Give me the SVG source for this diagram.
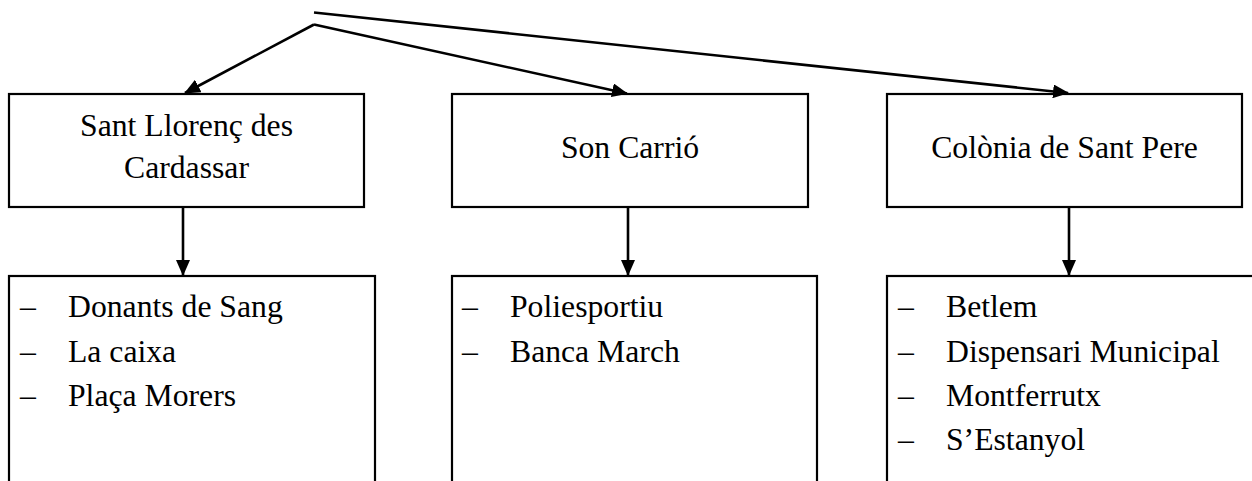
<svg xmlns="http://www.w3.org/2000/svg" width="1252" height="481" viewBox="0 0 1252 481">
  <style>
    .box { fill: #ffffff; stroke: #000000; stroke-width: 2.2; }
    .head { font-family: "Liberation Serif", "Times New Roman", serif; font-size: 31.7px; fill: #000000; text-anchor: middle; }
    .item { font-family: "Liberation Serif", "Times New Roman", serif; font-size: 31.7px; fill: #000000; }
    .conn { fill: none; stroke: #000000; stroke-width: 2.6; }
  </style>
  <defs>
    <marker id="arrow" markerUnits="userSpaceOnUse" viewBox="0 0 16 14" refX="15" refY="7" markerWidth="16" markerHeight="14" orient="auto">
      <path d="M0,0 L16,7 L0,14 Z" fill="#000000"/>
    </marker>
  </defs>
  <rect width="1252" height="481" fill="#ffffff"/>

  <g id="node-sant-llorenc">
    <rect class="box" x="9" y="94" width="355" height="113"/>
    <text class="head" x="186.5" y="136">Sant Llorenç des</text>
    <text class="head" x="186.5" y="178">Cardassar</text>
  </g>
  <g id="node-son-carrio">
    <rect class="box" x="452" y="94" width="356" height="113"/>
    <text class="head" x="630" y="157.5">Son Carrió</text>
  </g>
  <g id="node-colonia">
    <rect class="box" x="887" y="94" width="355" height="113"/>
    <text class="head" x="1064.5" y="157.5">Colònia de Sant Pere</text>
  </g>

  <g id="list-sant-llorenc">
    <rect class="box" x="9" y="276" width="366" height="230"/>
    <text class="item" x="20" y="317">–</text><text class="item" x="68" y="317">Donants de Sang</text>
    <text class="item" x="20" y="362">–</text><text class="item" x="68" y="362">La caixa</text>
    <text class="item" x="20" y="406">–</text><text class="item" x="68" y="406">Plaça Morers</text>
  </g>
  <g id="list-son-carrio">
    <rect class="box" x="452" y="276" width="365" height="230"/>
    <text class="item" x="462" y="317">–</text><text class="item" x="510" y="317">Poliesportiu</text>
    <text class="item" x="462" y="362">–</text><text class="item" x="510" y="362">Banca March</text>
  </g>
  <g id="list-colonia">
    <rect class="box" x="887" y="276" width="375" height="230"/>
    <text class="item" x="898" y="317">–</text><text class="item" x="946" y="317">Betlem</text>
    <text class="item" x="898" y="362">–</text><text class="item" x="946" y="362">Dispensari Municipal</text>
    <text class="item" x="898" y="406">–</text><text class="item" x="946" y="406">Montferrutx</text>
    <text class="item" x="898" y="450">–</text><text class="item" x="946" y="450">S’Estanyol</text>
  </g>

  <g id="connectors">
    <line class="conn" x1="314" y1="12.5" x2="1068" y2="93" marker-end="url(#arrow)"/>
    <line class="conn" x1="314" y1="24.5" x2="185" y2="93" marker-end="url(#arrow)"/>
    <line class="conn" x1="314" y1="24.5" x2="627" y2="93.5" marker-end="url(#arrow)"/>
    <line class="conn" x1="183" y1="207" x2="183" y2="275" marker-end="url(#arrow)"/>
    <line class="conn" x1="628" y1="207" x2="628" y2="275" marker-end="url(#arrow)"/>
    <line class="conn" x1="1069" y1="207" x2="1069" y2="275" marker-end="url(#arrow)"/>
  </g>
</svg>
